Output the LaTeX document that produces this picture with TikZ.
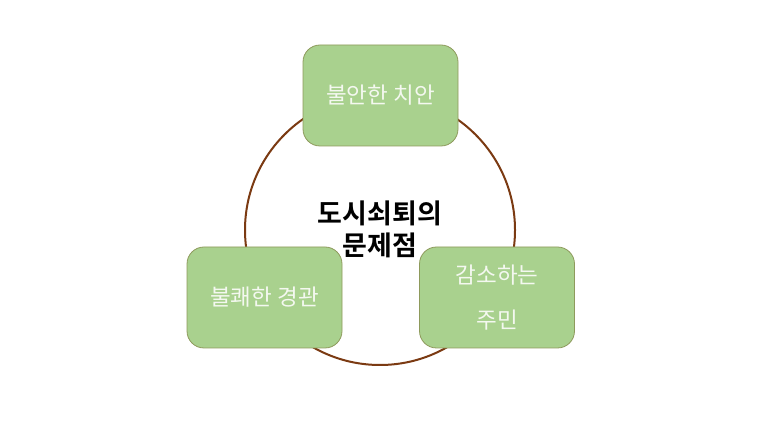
\documentclass[tikz,border=0pt]{standalone}
\usepackage{fontspec}
\newfontfamily\kr{Noto Sans CJK KR}
\newfontfamily\krb{Noto Sans CJK KR Bold}
\definecolor{boxfill}{HTML}{A9D18E}
\definecolor{boxline}{HTML}{8E9A5C}
\definecolor{ringcol}{HTML}{7B3A12}
\definecolor{boxtext}{HTML}{F4F8F0}
\tikzset{
  itembox/.style={draw=boxline, line width=0.8pt, fill=boxfill, rounded corners=17pt,
    minimum width=155pt, minimum height=101pt, inner sep=0pt,
    text=boxtext, font=\kr\fontsize{22.5}{45}\selectfont, align=center},
  ring/.style={draw=ringcol, line width=2pt},
  title/.style={font=\krb\fontsize{27}{32}\selectfont, align=center, text=black}
}
\begin{document}
\begin{tikzpicture}[x=1pt,y=1pt]
\useasboundingbox (0,0) rectangle (760,428);
\fill[white] (0,0) rectangle (760,428);
\coordinate (c) at (380,198);
\draw[ring] (c) circle (135);
\node[title] (t) at (380,199) {도시쇠퇴의\\문제점};
\node[itembox] (a) at (380.5,332.5) {불안한 치안};
\node[itembox] (b) at (264.5,130.5) {불쾌한 경관};
\node[itembox] (d) at (497,130.5) {감소하는\\주민};
\end{tikzpicture}
\end{document}
